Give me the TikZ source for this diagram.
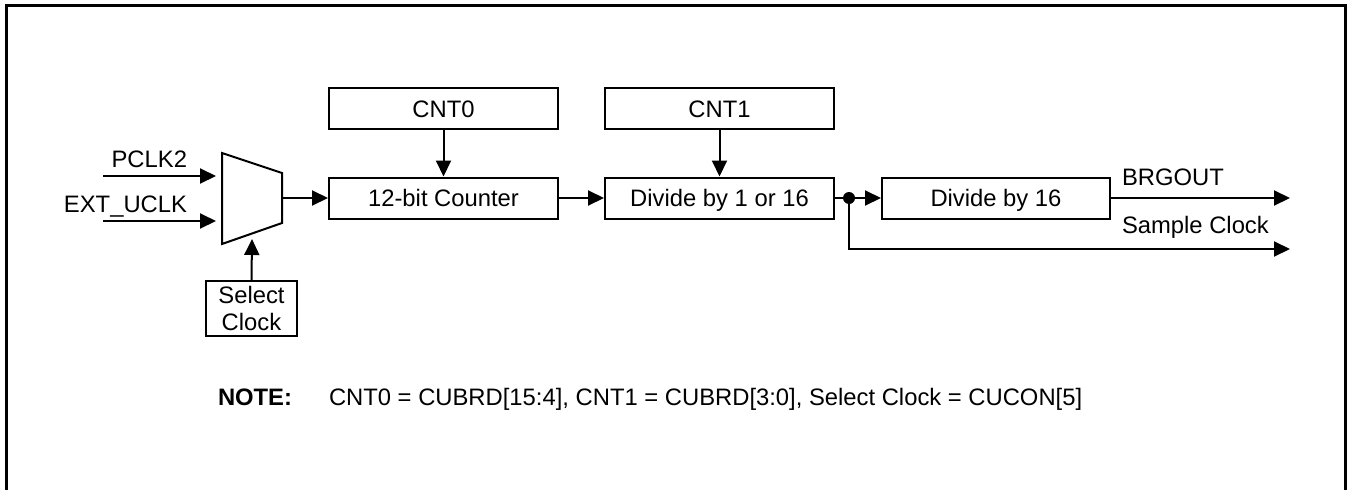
\documentclass[tikz,border=0pt]{standalone}
\usepackage{fontspec}
\setmainfont{Liberation Sans}
\usetikzlibrary{arrows.meta}
\begin{document}
\begin{tikzpicture}[x=1pt,y=-1pt,
  line width=2pt,
  every node/.style={font=\fontsize{23.8}{27}\selectfont, inner sep=0pt},
  blk/.style={draw, minimum width=229pt, minimum height=41pt, text height=17pt, text depth=0pt},
  arr/.style={-{Triangle[length=16pt,width=15pt]}},
  lbl/.style={anchor=base west},
  lbr/.style={anchor=base east}]
\useasboundingbox (0,0) rectangle (1347,490);
% frame (open at the bottom)
\draw[line width=3pt] (6,495) -- (6,5) -- (1345,5) -- (1345,495);

% blocks
\node[blk] (cnt0) at (443.5,108.5) {CNT0};
\node[blk] (ctr) at (443.5,198) {12-bit Counter};
\node[blk] (cnt1) at (719.5,108.5) {CNT1};
\node[blk] (div) at (719.5,198) {Divide by 1 or 16};
\node[blk, minimum width=228pt] (div16) at (996,198) {Divide by 16};
\node[draw, minimum width=91pt, minimum height=55pt, align=center] (sel) at (251.5,308.5) {Select\\Clock};

% multiplexer
\coordinate (m1) at (222,153);
\coordinate (m2) at (282,173);
\coordinate (m3) at (282,223);
\coordinate (m4) at (222,244);
\draw (m1) -- (m2) -- (m3) -- (m4) -- cycle;
\coordinate (mout) at (282,198);
\coordinate (msel) at (252,239);

% inputs
\coordinate (pin) at (103,176);
\coordinate (pend) at (216,176);
\coordinate (ein) at (103,221);
\coordinate (eend) at (216,221);
\draw[arr] (pin) -- (pend);
\draw[arr] (ein) -- (eend);
\node[lbr] (lp) at (188,167) {PCLK2};
\node[lbr] (le) at (188,212.5) {EXT\_UCLK};

% connectors
\draw[arr] (sel.north) -- (msel);
\draw[arr] (mout) -- (ctr.west);
\draw[arr] (cnt0.south) -- (ctr.north);
\draw[arr] (cnt1.south) -- (div.north);
\draw[arr] (ctr.east) -- (div.west);
\coordinate (j) at (849,198);
\draw (div.east) -- (j);
\fill (j) circle (6pt);
\draw[arr] (j) -- (div16.west);
\coordinate (bout) at (1290,198);
\coordinate (sout) at (1290,249);
\draw[arr] (div16.east) -- (bout);
\draw[arr] (j) |- (sout);
\node[lbl] (lb) at (1121,185) {BRGOUT};
\node[lbl] (ls) at (1121,233) {Sample Clock};

% note
\node[lbl] (note) at (217,405.5) {\textbf{NOTE:}};
\node[lbl] (notetxt) at (328,405.5) {CNT0 = CUBRD[15:4], CNT1 = CUBRD[3:0], Select Clock = CUCON[5]};
\end{tikzpicture}
\end{document}
